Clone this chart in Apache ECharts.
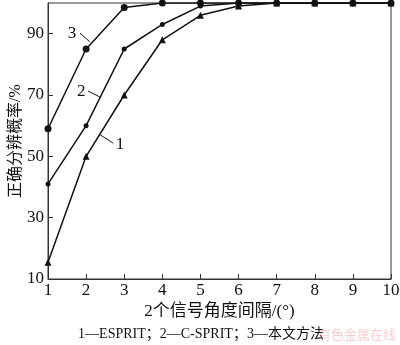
<!DOCTYPE html>
<html><head><meta charset="utf-8">
<script src="https://cdn.jsdelivr.net/npm/echarts@6/dist/echarts.min.js"></script>
<style>html,body{margin:0;padding:0;background:#fff}#c{width:400px;height:345px}</style>
</head><body><div id="c"></div>
<script>
const xValues = [1,2,3,4,5,6,7,8,9,10];
const esprit = [15.5,50,70,88,96,99,100,100,100,100];
const cSprit = [41,60,85,93,99,100,100,100,100,100];
const proposed = [59,85,98.5,100,100,100,100,100,100,100];
const yTicks = [10,30,50,70,90];
const xName = '2个信号角度间隔/(°)';
const yName = '正确分辨概率/%';
const caption = '1—ESPRIT；2—C-SPRIT；3—本文方法';
const watermark = '有色金属在线';
// annotation labels in data coordinates: [text, labelX, labelY, lineFromX, lineFromY, lineToX, lineToY]
const notes = [
  ['3', 1.63, 90.2, 1.84, 90.2, 2.1, 87.3],
  ['2', 1.87, 71.0, 2.05, 71.3, 2.37, 69.3],
  ['1', 2.89, 53.7, 2.37, 57.0, 2.71, 54.3]
];
const serif = 'Liberation Serif, Noto Sans CJK SC, serif';
const chart = echarts.init(document.getElementById('c'));
const mk = (vals) => xValues.map((x,i)=>[x,vals[i]]);
const lineStyle = {color:'#111', width:1.5};
chart.setOption({
  animation:false,
  grid:{left:48,right:9,top:3,bottom:66,show:true,borderColor:'#333',borderWidth:1,containLabel:false,outerBoundsMode:'none'},
  xAxis:{type:'value',min:1,max:10,interval:1,
    name:xName,nameLocation:'middle',nameGap:24,nameMoveOverlap:false,
    nameTextStyle:{fontFamily:serif,fontSize:17,color:'#111'},
    axisLine:{lineStyle:{color:'#333',width:1}},
    axisTick:{inside:true,length:5,lineStyle:{color:'#333'}},
    axisLabel:{fontFamily:serif,fontSize:17,color:'#111',margin:3},
    splitLine:{show:false}},
  yAxis:{type:'value',min:10,max:100,interval:20,
    name:yName,nameLocation:'middle',nameGap:24,nameRotate:90,nameMoveOverlap:false,
    nameTextStyle:{fontFamily:serif,fontSize:16,color:'#111'},
    axisLine:{show:true,lineStyle:{color:'#333',width:1}},
    axisTick:{show:true,inside:true,length:5,lineStyle:{color:'#333'}},
    axisLabel:{fontFamily:serif,fontSize:17,color:'#111',margin:4,showMaxLabel:false,
      formatter:(v)=> yTicks.includes(v)?String(v):''},
    splitLine:{show:false}},
  series:[
    {type:'line',data:mk(esprit),symbol:'triangle',symbolSize:7,lineStyle,itemStyle:{color:'#111'}},
    {type:'line',data:mk(cSprit),symbol:'circle',symbolSize:5,lineStyle,itemStyle:{color:'#111'}},
    {type:'line',data:mk(proposed),symbol:'circle',symbolSize:7,lineStyle,itemStyle:{color:'#111'}}
  ]
});
const g = [];
notes.forEach(n=>{
  const p = chart.convertToPixel({gridIndex:0},[n[1],n[2]]);
  const a = chart.convertToPixel({gridIndex:0},[n[3],n[4]]);
  const b = chart.convertToPixel({gridIndex:0},[n[5],n[6]]);
  g.push({type:'text',x:p[0],y:p[1],style:{text:n[0],font:'17px '+serif,fill:'#111',align:'center',verticalAlign:'middle'}});
  g.push({type:'line',shape:{x1:a[0],y1:a[1],x2:b[0],y2:b[1]},style:{stroke:'#111',lineWidth:1}});
});
g.push({type:'text',x:201,y:334,style:{text:caption,font:'14px '+serif,fill:'#111',align:'center',verticalAlign:'middle'}});
g.push({type:'text',x:396,y:334,style:{text:watermark,font:'13px Noto Sans CJK SC',fill:'rgba(235,150,150,0.45)',align:'right',verticalAlign:'middle'}});
chart.setOption({graphic:g});
</script></body></html>
